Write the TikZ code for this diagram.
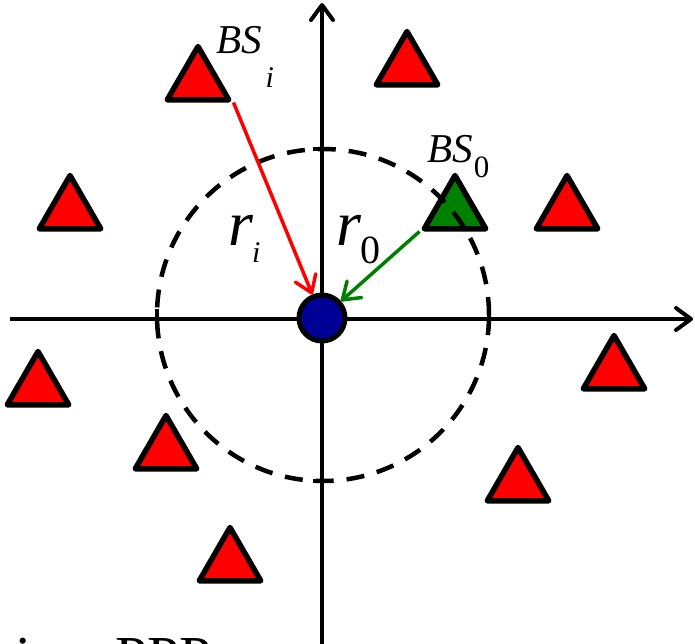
\documentclass[tikz,border=0pt]{standalone}
\usepackage{fontspec}
\setmainfont{Liberation Serif}
\usetikzlibrary{shapes.geometric,arrows.meta}
\definecolor{bsred}{RGB}{255,0,0}
\definecolor{bsgreen}{RGB}{0,128,0}
\definecolor{uenavy}{RGB}{0,0,150}
\begin{document}
\begin{tikzpicture}[x=1pt, y=-1pt, every node/.style={inner sep=0pt}]
\tikzset{bs/.style={regular polygon, regular polygon sides=3, minimum size=71pt, draw, line width=5.5pt, line join=round, fill=bsred},
  axis/.style={line width=4pt, -{Straight Barb[length=15pt, width=22pt, round]}},
  link/.style={line width=3.5pt, -{Straight Barb[length=16pt, width=22pt, round]}},
  lbl/.style={anchor=base west}}
\useasboundingbox (0,0) rectangle (695,643);
% axes
\coordinate (xw) at (10,319); \coordinate (xe) at (693,319);
\coordinate (ys) at (322,650); \coordinate (yn) at (322,3);
\draw[axis] (xw) -- (xe); \draw[axis] (ys) -- (yn);
\foreach \x in {157,489} \draw[line width=4pt] (\x,309) -- (\x,329);
\foreach \y in {149,481} \draw[line width=4pt] (313,\y) -- (331,\y);
% base stations
\foreach \n/\x/\y in {1/407/67, 2/70/211, 3/567/211, 4/38/387, 5/614/371, 6/166/451, 7/518/483, 8/230/563}
  \node[bs] (bs\n) at (\x,\y) {};
\node[bs] (bsi) at (198,82) {};
\node[bs, fill=bsgreen] (bs0) at (455,211) {};
% coverage circle
\draw[line width=4.5pt, dash pattern=on 18pt off 13pt] (323,315) circle[radius=166pt];
% user at origin
\node[circle, draw, line width=5pt, fill=uenavy, minimum size=46pt] (ue) at (322,318) {};
\draw[link, bsred] (bsi.corner 3) -- (ue);
\draw[link, bsgreen] (bs0.corner 2) -- (ue);
% labels
\node[lbl, font=\fontsize{41}{41}\selectfont\itshape] (lbsi) at (216,53) {BS\kern4pt\raisebox{-34pt}{\fontsize{30}{30}\selectfont i}};
\node[lbl, font=\fontsize{41}{41}\selectfont\itshape] (lbs0) at (427,162) {BS\kern1pt\raisebox{-15pt}{\fontsize{31}{31}\selectfont\upshape 0}};
\node[lbl, font=\fontsize{64}{64}\selectfont\itshape] (lri) at (228,245) {r\kern-1pt\raisebox{-17pt}{\fontsize{30}{30}\selectfont i}};
\node[lbl, font=\fontsize{64}{64}\selectfont\itshape] (lr0) at (336,245) {r\kern-1pt\raisebox{-18pt}{\fontsize{40}{40}\selectfont\upshape 0}};
\node[lbl, font=\fontsize{58}{58}\selectfont] (lppp) at (15,676) {in a PPP};
\end{tikzpicture}
\end{document}
